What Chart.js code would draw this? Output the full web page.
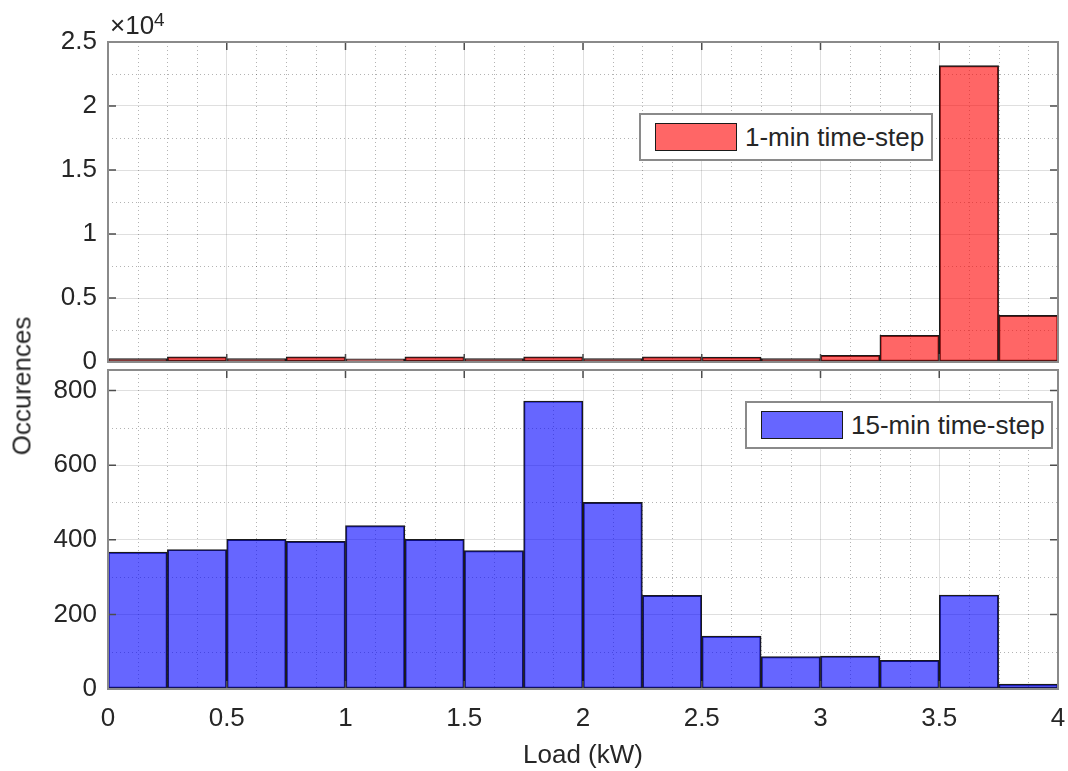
<!DOCTYPE html>
<html>
<head>
<meta charset="utf-8">
<script src="https://cdn.jsdelivr.net/npm/chart.js@4.4.1/dist/chart.umd.min.js"></script>
<style>
  html, body { margin: 0; padding: 0; background: #fff; }
  #wrap { position: relative; width: 1068px; height: 771px; font-family: 'Liberation Sans', Arial, sans-serif; color: #262626; }
  #topBox { position: absolute; left: 0; top: 0; width: 1068px; height: 372px; }
  #botBox { position: absolute; left: 0; top: 366px; width: 1068px; height: 405px; }
  .legend { position: absolute; background: #fff; border: 2px solid #8a8a8a; box-sizing: border-box; display: flex; align-items: center; font-size: 26px; white-space: nowrap; }
  .legend .swatch { width: 82px; height: 28px; box-sizing: border-box; border: 1.5px solid #1a1a1a; margin: 0 8px 0 14px; }
  #yTitle { position: absolute; left: 22px; top: 386px; transform: translate(-50%, -50%) rotate(-90deg); font-size: 26px; white-space: nowrap; }
  #expo { position: absolute; left: 110px; top: 12px; font-size: 26px; line-height: 26px; }
  #expo sup { font-size: 19px; position: relative; top: -5px; vertical-align: top; }
</style>
</head>
<body>
<div id="wrap">
  <div id="topBox"><canvas id="topChart"></canvas></div>
  <div id="botBox"><canvas id="botChart"></canvas></div>
  <div id="expo">&times;10<sup>4</sup></div>
  <div id="yTitle">Occurences</div>
</div>
<script>
// histogram bins (bin centres, kW)
const binCenters = [0.125, 0.375, 0.625, 0.875, 1.125, 1.375, 1.625, 1.875,
                    2.125, 2.375, 2.625, 2.875, 3.125, 3.375, 3.625, 3.875];

// occurrences per bin
const oneMinCounts = [260, 410, 260, 400, 250, 410, 260, 400,
                      260, 400, 380, 260, 520, 2080, 23150, 3640];
const fifteenMinCounts = [367, 374, 401, 396, 438, 401, 371, 772,
                          500, 251, 142, 87, 88, 77, 252, 13];

const seriesLabels = ['1-min time-step', '15-min time-step'];
const xTickValues = [0, 0.5, 1, 1.5, 2, 2.5, 3, 3.5, 4];
const topTickValues = [0, 5000, 10000, 15000, 20000, 25000];
const botTickValues = [0, 200, 400, 600, 800];
const xTitle = 'Load (kW)';

const tickFont = { family: "'Liberation Sans', Arial, sans-serif", size: 26 };
const majorGrid = 'rgba(38,38,38,0.15)';

// minor dotted grid, box frame and inward ticks like a matlab axes
const matlabAxes = {
  id: 'matlabAxes',
  beforeDatasetsDraw(chart, args, opts) {
    const { ctx, chartArea: a, scales: { x, y } } = chart;
    ctx.save();
    ctx.strokeStyle = 'rgba(38,38,38,0.35)';
    ctx.lineWidth = 1;
    ctx.setLineDash([1, 3]);
    for (let i = 0; ; i++) {
      const v = x.min + i * opts.xMinor;
      if (v > x.max + 1e-9) break;
      if (Math.abs(v / opts.xMajor - Math.round(v / opts.xMajor)) < 1e-6) continue;
      const px = Math.round(x.getPixelForValue(v)) + 0.5;
      ctx.beginPath(); ctx.moveTo(px, a.top); ctx.lineTo(px, a.bottom); ctx.stroke();
    }
    for (let i = 0; ; i++) {
      const v = y.min + i * opts.yMinor;
      if (v > y.max + 1e-9) break;
      if (Math.abs(v / opts.yMajor - Math.round(v / opts.yMajor)) < 1e-6) continue;
      const py = Math.round(y.getPixelForValue(v)) + 0.5;
      ctx.beginPath(); ctx.moveTo(a.left, py); ctx.lineTo(a.right, py); ctx.stroke();
    }
    ctx.restore();
  },
  afterDatasetsDraw(chart) {
    const { ctx, chartArea: a, scales: { x, y } } = chart;
    ctx.save();
    ctx.strokeStyle = '#4d4d4d';
    ctx.lineWidth = 1.5;
    const tl = 8;
    x.ticks.forEach(t => {
      const px = x.getPixelForValue(t.value);
      ctx.beginPath();
      ctx.moveTo(px, a.bottom); ctx.lineTo(px, a.bottom - tl);
      ctx.moveTo(px, a.top); ctx.lineTo(px, a.top + tl);
      ctx.stroke();
    });
    y.ticks.forEach(t => {
      const py = y.getPixelForValue(t.value);
      ctx.beginPath();
      ctx.moveTo(a.left, py); ctx.lineTo(a.left + tl, py);
      ctx.moveTo(a.right, py); ctx.lineTo(a.right - tl, py);
      ctx.stroke();
    });
    ctx.strokeStyle = '#8a8a8a';
    ctx.lineWidth = 2;
    ctx.strokeRect(a.left, a.top, a.right - a.left, a.bottom - a.top);
    ctx.restore();
  }
};

function xScale(showLabels) {
  return {
    type: 'linear',
    min: 0,
    max: 4,
    offset: false,
    bounds: 'data',
    grid: { color: majorGrid, drawTicks: false, offset: false },
    border: { display: false },
    afterBuildTicks: s => { s.ticks = xTickValues.map(v => ({ value: v })); },
    ticks: {
      display: showLabels,
      color: '#262626',
      font: tickFont,
      padding: 14,
      maxRotation: 0,
      callback: v => v
    },
    title: {
      display: showLabels,
      text: xTitle,
      color: '#262626',
      font: tickFont,
      padding: { top: 0, bottom: 0 }
    },
    afterFit: s => {
      s.height = showLabels ? 82 : 0;
      s.paddingLeft = 0;
      s.paddingRight = 0;
    }
  };
}

function makeChart(id, label, counts, color, yOpts, padding, minor, legendPos) {
  const chart = new Chart(document.getElementById(id), {
    type: 'bar',
    data: {
      datasets: [{
        label: label,
        data: binCenters.map((c, i) => ({ x: c, y: counts[i] })),
        backgroundColor: color,
        borderColor: '#1a1a1a',
        borderWidth: 1.3,
        borderSkipped: false,
        barPercentage: 1,
        categoryPercentage: 1
      }]
    },
    options: {
      responsive: true,
      maintainAspectRatio: false,
      animation: false,
      layout: { padding: padding },
      plugins: {
        legend: { display: false },
        tooltip: { enabled: false },
        matlabAxes: minor
      },
      scales: {
        x: xScale(id === 'botChart'),
        y: Object.assign({
          type: 'linear',
          bounds: 'data',
          grid: { color: majorGrid, drawTicks: false },
          border: { display: false },
          afterFit: s => {
            s.width = 108;
            s.paddingTop = 0;
            s.paddingBottom = 0;
          }
        }, yOpts)
      }
    },
    plugins: [matlabAxes]
  });

  // legend box built from the dataset
  const ds = chart.data.datasets[0];
  const lg = document.createElement('div');
  lg.className = 'legend';
  Object.assign(lg.style, legendPos);
  const sw = document.createElement('div');
  sw.className = 'swatch';
  sw.style.background = ds.backgroundColor;
  const tx = document.createElement('span');
  tx.textContent = ds.label;
  lg.appendChild(sw);
  lg.appendChild(tx);
  document.getElementById('wrap').appendChild(lg);
  return chart;
}

makeChart('topChart', seriesLabels[0], oneMinCounts, 'rgba(255,0,0,0.6)', {
  min: 0,
  max: 25000,
  afterBuildTicks: s => { s.ticks = topTickValues.map(v => ({ value: v })); },
  ticks: { color: '#262626', font: tickFont, padding: 11, callback: v => v / 1e4 }
}, { top: 42, right: 10, left: 0, bottom: 10 },
{ xMinor: 0.125, xMajor: 0.5, yMinor: 2500, yMajor: 5000 },
{ left: '639px', top: '113px', width: '294px', height: '48px' });

makeChart('botChart', seriesLabels[1], fifteenMinCounts, 'rgba(0,0,255,0.6)', {
  min: 0,
  max: 855,
  afterBuildTicks: s => { s.ticks = botTickValues.map(v => ({ value: v })); },
  ticks: { color: '#262626', font: tickFont, padding: 11 }
}, { top: 4, right: 10, left: 0, bottom: 0 },
{ xMinor: 0.125, xMajor: 0.5, yMinor: 100, yMajor: 200 },
{ left: '745px', top: '401px', width: '308px', height: '48px' });
</script>
</body>
</html>
